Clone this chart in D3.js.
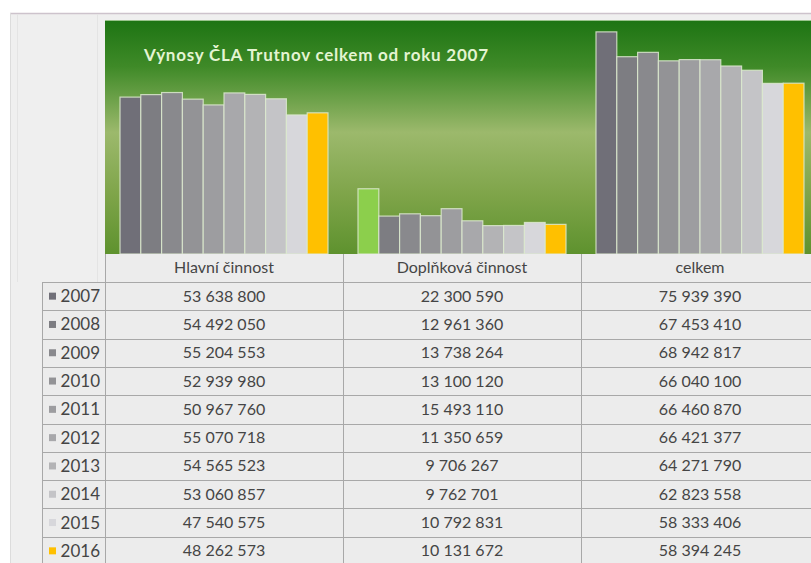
<!DOCTYPE html>
<html>
<head>
<meta charset="utf-8">
<script src="https://cdnjs.cloudflare.com/ajax/libs/d3/7.8.5/d3.min.js"></script>
<style>
  body { margin: 0; background: #fff; }
  svg { display: block; }
</style>
</head>
<body>
<svg width="811" height="563"></svg>
<script>
'use strict';

const title = "Výnosy ČLA Trutnov celkem od roku 2007";
const categories = ["Hlavní činnost", "Doplňková činnost", "celkem"];
const years = ["2007", "2008", "2009", "2010", "2011", "2012", "2013", "2014", "2015", "2016"];
const hlavni = [53638800, 54492050, 55204553, 52939980, 50967760, 55070718, 54565523, 53060857, 47540575, 48262573];
const doplnkova = [22300590, 12961360, 13738264, 13100120, 15493110, 11350659, 9706267, 9762701, 10792831, 10131672];
const celkem = [75939390, 67453410, 68942817, 66040100, 66460870, 66421377, 64271790, 62823558, 58333406, 58394245];
const yearColors = ["#706f78", "#7d7d82", "#89898d", "#939396", "#9d9da0", "#a8a8ab", "#b3b3b5", "#c4c4c7", "#d7d7db", "#ffc000"];

const series = [hlavni, doplnkova, celkem];

const svg = d3.select("svg");
const width = 811, height = 563;

const plot = { left: 105, top: 20, bottom: 254 };
const rowH = 28.3, headTop = 254, headBottom = 282;

const x0 = d3.scaleBand().domain(categories).range([plot.left, plot.left + 3 * 238]);
const x1 = d3.scaleBand().domain(years).range([15, x0.bandwidth() - 15]);
const y = d3.scaleLinear().domain([0, 80000000]).range([plot.bottom, plot.top]);
const rowY = d3.scaleBand().domain(years).range([headBottom, headBottom + years.length * rowH]);

const fmt = v => d3.format(",")(v).replace(/,/g, " ");

// outer sheet
svg.append("rect").attr("x", 10).attr("y", 13).attr("width", width).attr("height", height)
    .attr("fill", "#efefef");
svg.append("line").attr("x1", 10).attr("x2", width).attr("y1", 13.5).attr("y2", 13.5)
    .attr("stroke", "#cdc3cc").attr("stroke-width", 1.5);
svg.append("line").attr("x1", 10.5).attr("x2", 10.5).attr("y1", 13).attr("y2", height)
    .attr("stroke", "#dcdcdc");
[17.5, 97.5].forEach(xx => svg.append("line").attr("x1", xx).attr("x2", xx)
    .attr("y1", 14).attr("y2", headBottom).attr("stroke", "#e4e4e4"));

// plot gradient
const defs = svg.append("defs");
const grad = defs.append("linearGradient").attr("id", "bg").attr("x1", 0).attr("x2", 0).attr("y1", 0).attr("y2", 1);
[[0, "#1d7413"], [0.2, "#3f8a28"], [0.48, "#9cb96c"], [0.75, "#7ea449"], [1, "#5e922e"]]
    .forEach(([o, c]) => grad.append("stop").attr("offset", o).attr("stop-color", c));

svg.append("rect")
    .attr("x", plot.left).attr("y", plot.top)
    .attr("width", width - plot.left).attr("height", plot.bottom - plot.top)
    .attr("fill", "url(#bg)");
svg.append("line").attr("x1", plot.left).attr("x2", width).attr("y1", plot.top + 0.5).attr("y2", plot.top + 0.5)
    .attr("stroke", "#cfe6c0").attr("stroke-opacity", 0.7);

svg.append("text")
    .attr("x", 144).attr("y", 61)
    .attr("font-family", "Lato, sans-serif").attr("font-weight", "bold").attr("font-size", 17)
    .attr("textLength", 344).attr("lengthAdjust", "spacing")
    .attr("fill", "#e4f4d2")
    .text(title);

// bars
const groups = svg.append("g").selectAll("g")
    .data(categories)
    .join("g")
    .attr("transform", d => `translate(${x0(d)},0)`);

groups.selectAll("rect")
    .data((c, ci) => years.map((yr, i) => ({ ci, yr, i, v: series[ci][i] })))
    .join("rect")
    .attr("x", d => x1(d.yr))
    .attr("y", d => y(d.v))
    .attr("width", x1.bandwidth())
    .attr("height", d => y(0) - y(d.v))
    .attr("fill", d => (d.ci === 1 && d.i === 0) ? "#8ccf4c" : yearColors[d.i])
    .attr("stroke", "#dce9cf")
    .attr("stroke-opacity", 0.85)
    .attr("stroke-width", 1.2);

// data table
const table = svg.append("g")
    .attr("font-family", "Lato, sans-serif").attr("font-size", 16).attr("fill", "#454545");

const lineCol = "#a8a8a8";
const tableBottom = headBottom + years.length * rowH;

table.append("rect").attr("x", plot.left).attr("y", headTop).attr("width", width - plot.left)
    .attr("height", headBottom - headTop).attr("fill", "#ececec");
table.append("rect").attr("x", 42).attr("y", headBottom).attr("width", width - 42)
    .attr("height", tableBottom - headBottom).attr("fill", "#ececec");

// horizontal lines
table.selectAll("line.h")
    .data(years.map(yr => rowY(yr)).concat([tableBottom]))
    .join("line")
    .attr("x1", 42).attr("x2", width)
    .attr("y1", d => Math.round(d) + 0.5).attr("y2", d => Math.round(d) + 0.5)
    .attr("stroke", lineCol);

// vertical lines
table.append("line").attr("x1", 42.5).attr("x2", 42.5).attr("y1", headBottom).attr("y2", tableBottom).attr("stroke", lineCol);
table.selectAll("line.v")
    .data(categories.map(c => x0(c)).concat([x0("celkem") + x0.bandwidth()]))
    .join("line")
    .attr("x1", d => Math.round(d) + 0.5).attr("x2", d => Math.round(d) + 0.5)
    .attr("y1", headTop).attr("y2", tableBottom)
    .attr("stroke", lineCol);

// header labels
table.selectAll("text.head")
    .data(categories)
    .join("text")
    .attr("x", d => x0(d) + x0.bandwidth() / 2)
    .attr("y", (headTop + headBottom) / 2 + 5)
    .attr("text-anchor", "middle")
    .text(d => d);

// row labels with legend keys
const rows = table.selectAll("g.row")
    .data(years)
    .join("g")
    .attr("transform", d => `translate(0,${rowY(d) + rowH / 2})`);

rows.append("rect")
    .attr("x", 49).attr("y", -3.5).attr("width", 7).attr("height", 7)
    .attr("fill", (d, i) => yearColors[i]);

rows.append("text")
    .attr("x", 100).attr("y", 6)
    .attr("text-anchor", "end")
    .attr("font-size", 17)
    .text(d => d);

categories.forEach((c, ci) => {
    rows.append("text")
        .attr("x", x0(c) + x0.bandwidth() / 2)
        .attr("y", 5.5)
        .attr("text-anchor", "middle")
        .text((d, i) => fmt(series[ci][i]));
});
</script>
</body>
</html>
